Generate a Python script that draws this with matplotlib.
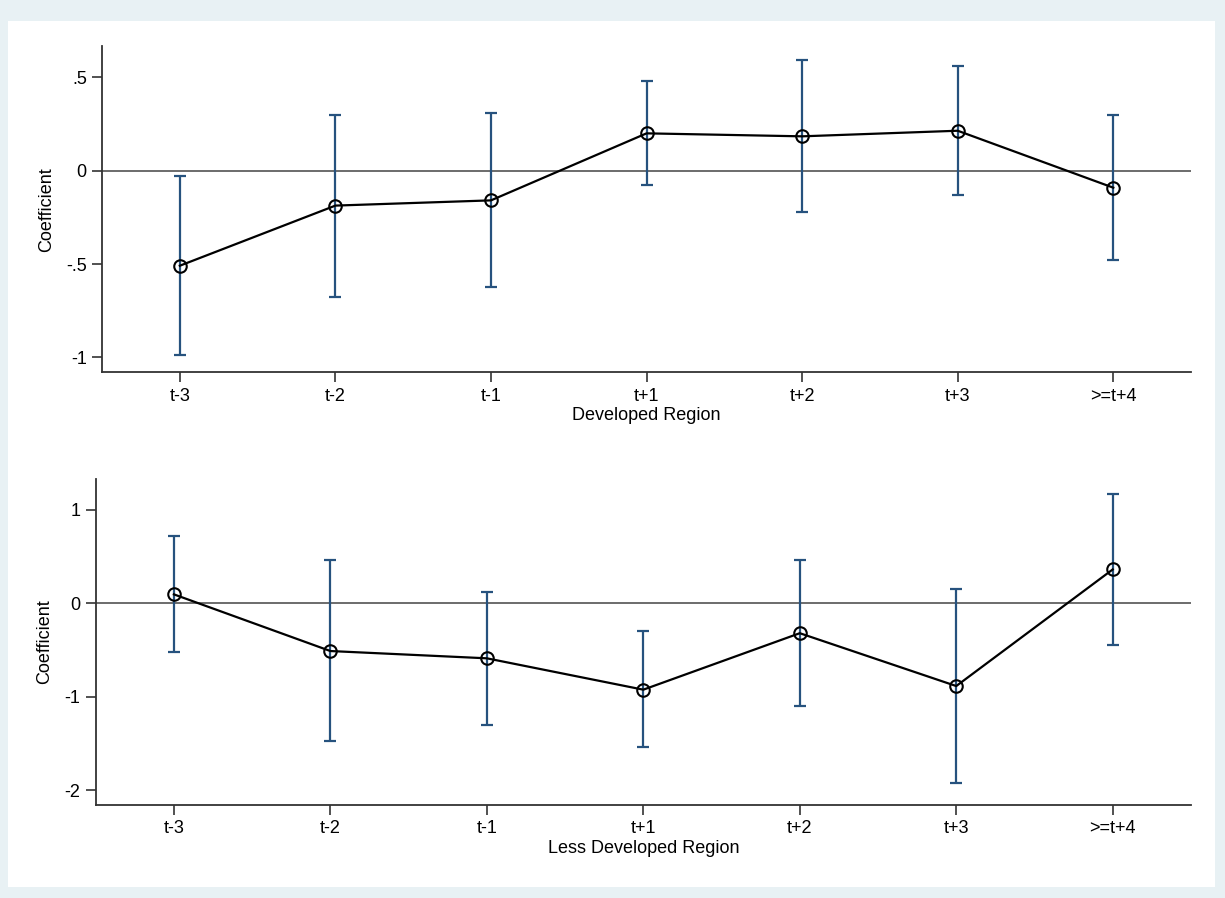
import matplotlib
matplotlib.use('Agg')
import matplotlib.pyplot as plt
import matplotlib.patches as mpatches
import numpy as np

plt.rcParams['font.family'] = ['Liberation Sans', 'DejaVu Sans']

# event-time labels
periods = ['t-3', 't-2', 't-1', 't+1', 't+2', 't+3', '>=t+4']

# developed region: point estimate and 95% CI bounds
dev_coef = [-0.509, -0.187, -0.159, 0.200, 0.184, 0.214, -0.091]
dev_lo = [-0.987, -0.675, -0.625, -0.078, -0.223, -0.130, -0.478]
dev_hi = [-0.028, 0.298, 0.311, 0.479, 0.591, 0.559, 0.297]

# less developed region
less_coef = [0.096, -0.511, -0.589, -0.925, -0.320, -0.886, 0.363]
less_lo = [-0.525, -1.476, -1.304, -1.536, -1.100, -1.920, -0.447]
less_hi = [0.720, 0.460, 0.125, -0.300, 0.460, 0.157, 1.170]

dev_yticks = [-1, -0.5, 0, 0.5]
dev_yticklabels = ['-1', '-.5', '0', '.5']
less_yticks = [-2, -1, 0, 1]
less_yticklabels = ['-2', '-1', '0', '1']

CI_COLOR = '#26527e'
AXIS_COLOR = '#333333'
FS = 13


def plot_event_panel(ax, coef, lo, hi, xlabel, yticks, yticklabels, ylim):
    x = np.arange(1, len(periods) + 1)
    coef = np.asarray(coef)
    yerr = np.vstack([coef - np.asarray(lo), np.asarray(hi) - coef])

    ax.axhline(0, color='#444444', linewidth=1.1, zorder=1)
    ax.errorbar(x, coef, yerr=yerr, fmt='none', ecolor=CI_COLOR,
                elinewidth=1.6, capsize=4.5, capthick=1.6, zorder=2)
    ax.plot(x, coef, color='black', linewidth=1.6, zorder=3)
    ax.plot(x, coef, linestyle='none', marker='o', markersize=9,
            markerfacecolor='none', markeredgecolor='black',
            markeredgewidth=1.5, zorder=4)

    ax.set_xlim(0.5, 7.5)
    ax.set_ylim(*ylim)
    ax.set_xticks(x)
    ax.set_xticklabels(periods, fontsize=FS)
    ax.set_yticks(yticks)
    ax.set_yticklabels(yticklabels, fontsize=FS)
    ax.set_xlabel(xlabel, fontsize=FS, labelpad=2)
    ax.set_ylabel('Coefficient', fontsize=FS, labelpad=8)

    for side in ['top', 'right']:
        ax.spines[side].set_visible(False)
    for side in ['left', 'bottom']:
        ax.spines[side].set_color(AXIS_COLOR)
        ax.spines[side].set_linewidth(1.3)
    ax.tick_params(axis='both', direction='out', length=7, width=1.2,
                   color=AXIS_COLOR, pad=4)
    ax.patch.set_alpha(0)


fig = plt.figure(figsize=(12.25, 8.98), dpi=100)
fig.patch.set_facecolor('#e8f1f4')
fig.patches.append(mpatches.Rectangle((8 / 1225, 1 - 887 / 898), 1207 / 1225, 866 / 898,
                                      transform=fig.transFigure, facecolor='white',
                                      edgecolor='none', zorder=-10))

ax1 = fig.add_axes([0.0833, 0.5854, 0.8890, 0.3634])
ax2 = fig.add_axes([0.0781, 0.1036, 0.8941, 0.3627])

plot_event_panel(ax1, dev_coef, dev_lo, dev_hi, 'Developed Region',
                 dev_yticks, dev_yticklabels, (-1.08, 0.668))
plot_event_panel(ax2, less_coef, less_lo, less_hi, 'Less Developed Region',
                 less_yticks, less_yticklabels, (-2.16, 1.329))

plt.savefig('out.png', dpi=100, facecolor=fig.get_facecolor())
plt.close()
